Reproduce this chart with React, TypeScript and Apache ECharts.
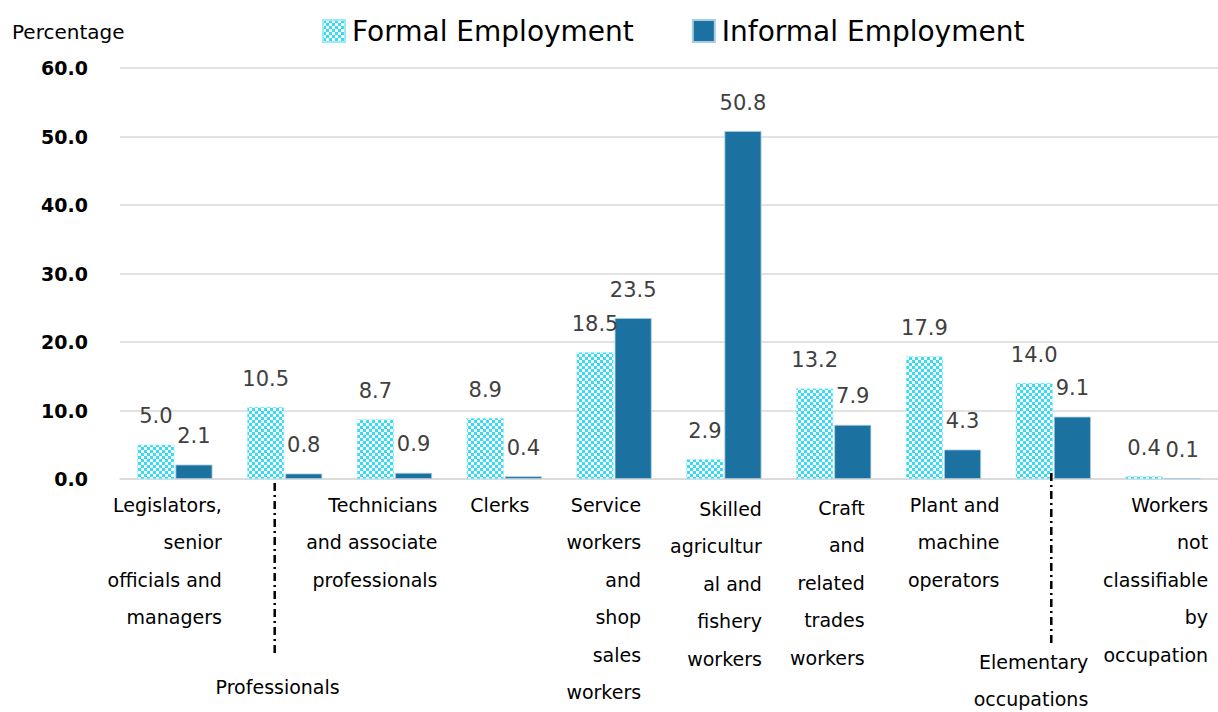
import React, { useEffect, useRef } from "react";
import * as echarts from "echarts";

const categories = [
  "Legislators,\nsenior\nofficials and\nmanagers",
  "Professionals",
  "Technicians\nand associate\nprofessionals",
  "Clerks",
  "Service\nworkers\nand\nshop\nsales\nworkers",
  "Skilled\nagricultur\nal and\nfishery\nworkers",
  "Craft\nand\nrelated\ntrades\nworkers",
  "Plant and\nmachine\noperators",
  "Elementary\noccupations",
  "Workers\nnot\nclassifiable\nby\noccupation",
];
const formal = [5.0, 10.5, 8.7, 8.9, 18.5, 2.9, 13.2, 17.9, 14.0, 0.4];
const informal = [2.1, 0.8, 0.9, 0.4, 23.5, 50.8, 7.9, 4.3, 9.1, 0.1];
const seriesNames = ["Formal Employment", "Informal Employment"];
const yTicks = { min: 0, max: 60, interval: 10 };
// per-label block width (right edge = center + width/2) and top padding
const labelWidths = [94, 110, 86, 50, 54, 76, 62, 112, 70, 90];
const labelPadTop = [0, 182, 0, 0, 0, 4, 3, 0, 157, 0];

const FONT = "DejaVu Sans";

function makeChecker() {
  const c = document.createElement("canvas");
  c.width = 6;
  c.height = 6;
  const ctx = c.getContext("2d")!;
  ctx.fillStyle = "#ffffff";
  ctx.fillRect(0, 0, 6, 6);
  ctx.fillStyle = "#36dcf4";
  ctx.fillRect(0, 0, 3, 3);
  ctx.fillRect(3, 3, 3, 3);
  return c;
}

export default function App() {
  const ref = useRef<HTMLDivElement>(null);
  useEffect(() => {
    if (!ref.current) return;
    const chart = echarts.init(ref.current, null, { renderer: "svg" });
    const pattern: any = {
      image: makeChecker(),
      repeat: "repeat",
      imageWidth: 6,
      imageHeight: 6,
    };
    const catData = categories.map((c, i) => ({
      value: c,
      textStyle: {
        width: labelWidths[i],
        padding: [labelPadTop[i], 0, 0, 0],
      },
    }));
    const valueLabel = {
      show: true,
      position: "top" as const,
      distance: 18,
      fontFamily: FONT,
      fontSize: 21,
      color: "#404040",
      formatter: (p: any) => Number(p.value).toFixed(1),
    };
    chart.setOption({
      animation: false,
      backgroundColor: "#ffffff",
      title: {
        text: "Percentage",
        left: 7,
        top: 17,
        textStyle: { fontFamily: FONT, fontSize: 20, fontWeight: "normal", color: "#000" },
      },
      legend: {
        left: 317,
        top: 12,
        itemWidth: 22,
        itemHeight: 22,
        itemGap: 58,
        icon: "rect",
        textStyle: { fontFamily: FONT, fontSize: 28, color: "#000", padding: [2, 0, 0, 2] },
        data: seriesNames,
      },
      grid: {
        left: 120,
        right: 0,
        top: 68,
        bottom: 233,
        containLabel: false,
        outerBoundsMode: "none",
      },
      xAxis: {
        type: "category",
        data: catData,
        axisTick: { show: false },
        axisLine: { show: true, lineStyle: { color: "#d9d9d9", width: 1.5 } },
        axisLabel: {
          interval: 0,
          margin: 7,
          color: "#000",
          fontFamily: FONT,
          fontSize: 19,
          lineHeight: 37.5,
          hideOverlap: false,
          formatter: (v: string) =>
            v.split("\n").map((l) => `{r|${l}}`).join("\n"),
          rich: {
            r: { align: "right", fontFamily: FONT, fontSize: 19, lineHeight: 37.5, color: "#000" },
          },
        },
      },
      yAxis: {
        type: "value",
        min: yTicks.min,
        max: yTicks.max,
        interval: yTicks.interval,
        axisLine: { show: false },
        axisTick: { show: false },
        splitLine: { lineStyle: { color: "#d9d9d9", width: 1.5 } },
        axisLabel: {
          margin: 32,
          fontFamily: FONT,
          fontSize: 19,
          fontWeight: "bold",
          color: "#000",
          formatter: (v: number) => v.toFixed(1),
        },
      },
      series: [
        {
          name: seriesNames[0],
          type: "bar",
          data: formal,
          barWidth: 37,
          barGap: "3%",
          itemStyle: { color: pattern, borderColor: "#9beaf7", borderWidth: 0.5 },
          label: valueLabel,
        },
        {
          name: seriesNames[1],
          type: "bar",
          data: informal,
          barWidth: 37,
          barGap: "3%",
          itemStyle: { color: "#1b72a1", borderColor: "#a9cde0", borderWidth: 0.8 },
          label: valueLabel,
        },
      ],
    });

    // dash-dot leader lines for the two labels placed below
    const zeroY = chart.convertToPixel({ yAxisIndex: 0 }, 0) as number;
    const xProf = chart.convertToPixel({ xAxisIndex: 0 }, 1) as number;
    const xElem = chart.convertToPixel({ xAxisIndex: 0 }, 8) as number;
    const leader = (x: number, y1: number, y2: number) => ({
      type: "line",
      shape: { x1: x, y1, x2: x, y2 },
      style: { stroke: "#000", lineWidth: 2.5, lineDash: [8, 4, 2, 4] },
      z: 10,
    });
    chart.setOption({
      graphic: [
        leader(xProf - 10, zeroY + 4, zeroY + 176),
        leader(xElem - 2, zeroY - 6, zeroY + 164),
      ],
    });

    return () => chart.dispose();
  }, []);
  return (
    <div
      ref={ref}
      style={{ position: "fixed", left: 0, top: 0, width: 1218, height: 712 }}
    />
  );
}
